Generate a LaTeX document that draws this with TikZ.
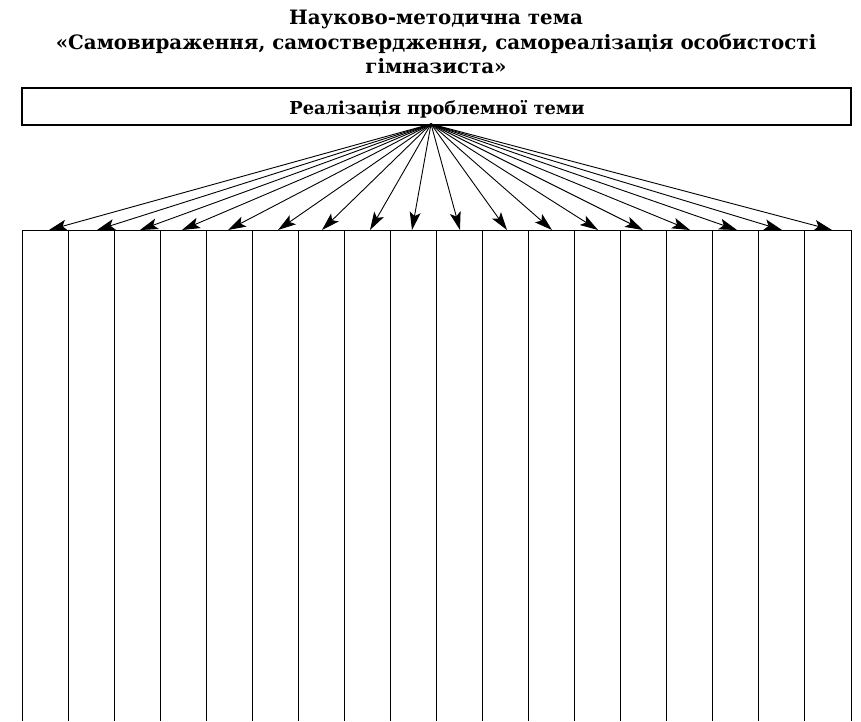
\documentclass[tikz,border=0pt]{standalone}
\usepackage{fontspec}
\setmainfont{DejaVu Serif}
\usetikzlibrary{arrows.meta}
\begin{document}
\begin{tikzpicture}[x=1pt,y=-1pt,
  titletext/.style={font=\bfseries\fontsize{19.8}{24.5}\selectfont, align=center, inner sep=0pt},
  topbox/.style={draw, line width=1.1pt, minimum width=829pt, minimum height=37pt, inner sep=0pt},
  boxtext/.style={font=\bfseries\fontsize{17.8}{20}\selectfont, inner sep=0pt},
  colline/.style={line width=1pt},
  fanarrow/.style={line width=0.9pt, -{Stealth[length=18pt,width=11pt,inset=4pt]}}]
\useasboundingbox (0,0) rectangle (861,721);
\node[titletext] (title) at (436,42) {Науково-методична тема\\«Самовираження, самоствердження, самореалізація особистості\\гімназиста»};
\node[topbox] (theme) at (436.5,106.5) {};
\node[boxtext] (themetext) at (437,109) {Реалізація проблемної теми};
\coordinate (apex) at (431,124);
% columns
\draw[colline] (22,230) -- (851,230);
\foreach \i in {0,...,18} {
  \draw[colline] ({22+\i*829/18},230) -- ({22+\i*829/18},721);
}
\foreach \t [count=\k] in {49,97,140,182,228,278,322,370,412,460,507,552,598,643,690,737,782,832} {
  \coordinate (tip\k) at (\t,230);
  \draw[fanarrow] (apex) -- (tip\k);
}
\end{tikzpicture}
\end{document}
